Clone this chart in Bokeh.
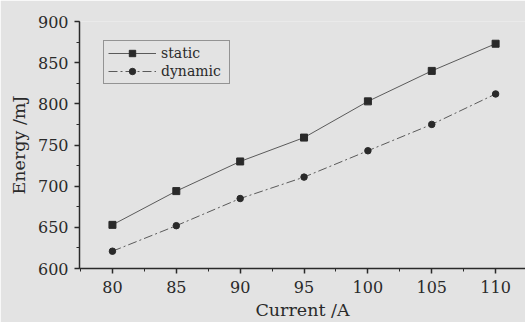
from bokeh.plotting import figure
from bokeh.models import Range1d, Legend, LegendItem, FixedTicker
from bokeh.embed import file_html
from bokeh.resources import INLINE

current = [80, 85, 90, 95, 100, 105, 110]
static = [653, 694, 730, 759, 803, 840, 873]
dynamic = [621, 652, 685, 711, 743, 775, 812]
x_ticks = [80, 85, 90, 95, 100, 105, 110]
y_ticks = [600, 650, 700, 750, 800, 850, 900]

BG = "#e3e3e3"
INK = "#2a2a2a"
FONT = "DejaVu Serif"

p = figure(width=525, height=322, output_backend="svg", toolbar_location=None,
           x_range=Range1d(77.42, 112.34), y_range=Range1d(600, 900),
           min_border_left=79, min_border_right=0, min_border_top=21, min_border_bottom=54)
p.background_fill_color = BG
p.border_fill_color = BG
p.outline_line_color = None
p.grid.visible = False

l1 = p.line(current, static, line_color="#5a5a5a", line_width=1)
m1 = p.scatter(current, static, marker="square", size=7, fill_color=INK, line_color=INK)
l2 = p.line(current, dynamic, line_color="#5a5a5a", line_width=1, line_dash="9 3 2 3")
m2 = p.scatter(current, dynamic, marker="circle", size=6.5, fill_color=INK, line_color=INK)

p.xaxis.ticker = FixedTicker(ticks=x_ticks, minor_ticks=[77.5 + 2.5 * i for i in range(15)])
p.yaxis.ticker = FixedTicker(ticks=y_ticks, minor_ticks=[600 + 25 * i for i in range(13)])

for ax in (p.xaxis[0], p.yaxis[0]):
    ax.axis_line_color = INK
    ax.axis_line_width = 1.5
    ax.major_tick_line_color = INK
    ax.major_tick_line_width = 1.5
    ax.minor_tick_line_color = INK
    ax.major_tick_out = 5
    ax.major_tick_in = 0
    ax.minor_tick_out = 3
    ax.minor_tick_in = 0
    ax.major_label_text_font = FONT
    ax.major_label_text_font_size = "16px"
    ax.major_label_text_color = INK
    ax.axis_label_text_font = FONT
    ax.axis_label_text_font_size = "17.5px"
    ax.axis_label_text_font_style = "normal"
    ax.axis_label_text_color = INK

p.xaxis.axis_label = "Current /A"
p.yaxis.axis_label = "Energy /mJ"
p.xaxis.major_label_standoff = 7
p.yaxis.major_label_standoff = 6
p.xaxis.axis_label_standoff = 4
p.yaxis.axis_label_standoff = 6

legend = Legend(items=[LegendItem(label="static", renderers=[l1, m1]),
                       LegendItem(label="dynamic", renderers=[l2, m2])],
                location=(24, 184))
legend.label_text_font = FONT
legend.label_text_font_size = "14px"
legend.label_text_color = INK
legend.glyph_width = 48
legend.glyph_height = 16
legend.label_height = 16
legend.label_width = 64
legend.spacing = 2
legend.padding = 4
legend.margin = 0
legend.label_standoff = 5
legend.border_line_color = "#444444"
legend.border_line_width = 1
legend.background_fill_color = BG
legend.background_fill_alpha = 1
p.add_layout(legend, "center")

open("out.html", "w").write(file_html(p, INLINE))
